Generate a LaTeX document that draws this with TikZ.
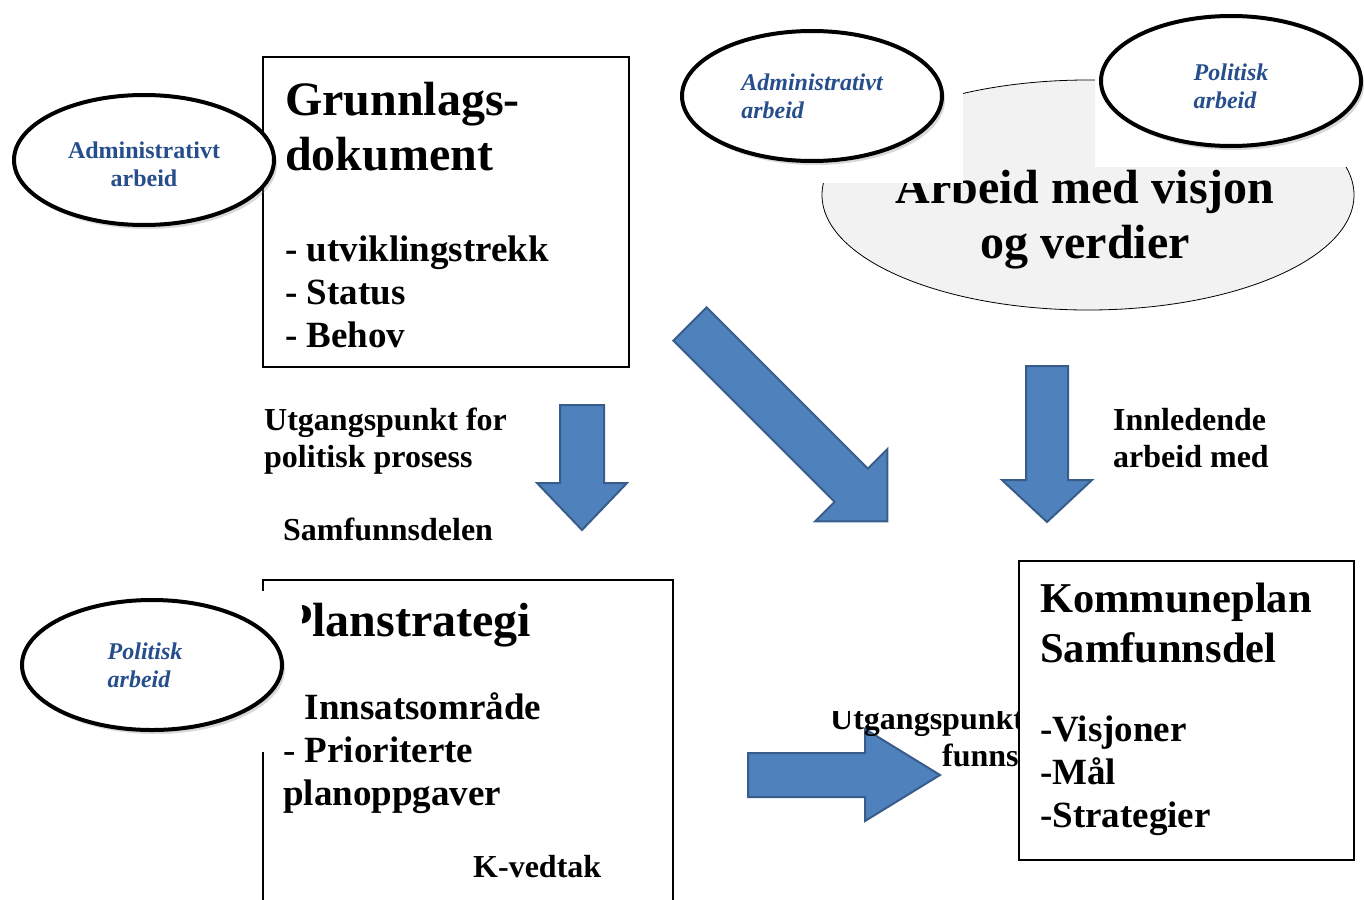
\documentclass[tikz,border=0pt]{standalone}
\usepackage{fontspec}
\setmainfont{Liberation Serif}
\usetikzlibrary{shapes.geometric,shadows}
\definecolor{tekstblaa}{RGB}{38,78,140}
\definecolor{pilblaa}{RGB}{79,129,189}
\definecolor{pilkant}{RGB}{56,93,138}
\definecolor{lysgraa}{RGB}{242,242,242}
\tikzset{
  boble/.style={ellipse, draw, line width=4pt, fill=white, minimum width=260pt, minimum height=130pt,
    drop shadow={opacity=0.3, shadow xshift=3pt, shadow yshift=-4pt}},
  bobletekst/.style={font=\bfseries\itshape\fontsize{24}{28}\selectfont, text=tekstblaa, align=left},
  tittel/.style={font=\bfseries\fontsize{48}{55}\selectfont, align=left, inner sep=0pt},
  liste/.style={font=\bfseries\fontsize{37}{43}\selectfont, align=left, inner sep=0pt},
  merknad/.style={font=\bfseries\fontsize{32}{37}\selectfont, align=left, inner sep=0pt},
  pil/.style={fill=pilblaa, draw=pilkant, line width=2pt, line join=miter},
  dekke/.style={fill=white, draw=none}
}
% blokkpil: start, vinkel, lengde, halv skaftbredde, halv hodebredde, hodelengde
\newcommand{\blokkpil}[6]{%
  \filldraw[pil, shift={(#1)}, rotate=#2] (0,-#4) -- ({#3-#6},-#4) -- ({#3-#6},-#5) -- (#3,0)
    -- ({#3-#6},#5) -- ({#3-#6},#4) -- (0,#4) -- cycle;}
\begin{document}
\begin{tikzpicture}[x=1pt,y=-1pt]
\useasboundingbox (0,0) rectangle (1364,899);

% grunnlagsdokument
\draw[line width=2.5pt] (263,57) rectangle (629,367);
\node[tittel, anchor=north west] (grunnlagtittel) at (285,82) {Grunnlags-\\dokument};
\node[liste, anchor=north west] (grunnlagliste) at (285,236) {- utviklingstrekk\\- Status\\- Behov};
\node[boble] (admin1) at (144,160) {};
\node[font=\bfseries\fontsize{24}{28}\selectfont, text=tekstblaa, align=center, yshift=-4pt] at (admin1) {Administrativt\\arbeid};

% visjon og verdier
\node[ellipse, draw, line width=0.8pt, fill=lysgraa, minimum width=532pt, minimum height=230pt] (visjon) at (1088,195) {};
\node[tittel, align=center, anchor=north] (visjontekst) at (1085,170) {Arbeid med visjon\\og verdier};
\fill[dekke] (640,0) rectangle (963,183);
\fill[dekke] (1095,0) rectangle (1364,167);
\node[boble] (admin2) at (812,96) {};
\node[bobletekst] at (admin2) {Administrativt\\arbeid};
\node[boble] (politisk1) at (1231,81) {};
\node[bobletekst, yshift=-5pt] at (politisk1) {Politisk\\arbeid};

% piler
\coordinate (pil1) at (582,405);
\coordinate (pil2) at (690,324);
\coordinate (pil3) at (1047,366);
\coordinate (pil4) at (748,775);
\blokkpil{pil1}{-90}{125}{22}{45}{47}
\blokkpil{pil2}{-45}{279}{23.5}{51}{51}
\blokkpil{pil3}{-90}{156}{21}{45}{42}
\blokkpil{pil4}{0}{192}{22}{46}{75}

\node[merknad, anchor=north west] (utgang1) at (264,408) {Utgangspunkt for\\politisk prosess};
\node[merknad, anchor=base west] (samfunn) at (283,540) {Samfunnsdelen};
\node[merknad, anchor=north west] (innledende) at (1113,408) {Innledende\\arbeid med};

% planstrategi
\draw[line width=1.2pt] (263,905) -- (263,580) -- (673,580) -- (673,905);
\node[tittel, anchor=north west] (plantittel) at (283,603) {Planstrategi};
\node[liste, anchor=north west] (planliste) at (283,692) {- Innsatsområde\\- Prioriterte\\planoppgaver};
\node[merknad, anchor=base west] (vedtak) at (473,877) {K-vedtak};
\fill[dekke] (200,591) rectangle (302,752);
\node[boble] (politisk2) at (152,665) {};
\node[bobletekst, xshift=-7pt] at (politisk2) {Politisk\\arbeid};

% kommuneplan
\node[merknad, anchor=base west] (utgang2) at (830,729) {Utgangspunkt};
\node[merknad, anchor=base west] (funns) at (942,766) {funns};
\fill[dekke] (800,680) rectangle (1018,711);
\draw[line width=1.5pt, fill=white] (1019,561) rectangle (1354,860);
\node[tittel, font=\bfseries\fontsize{42.5}{50}\selectfont, anchor=north west] (kommunetittel) at (1040,583) {Kommuneplan\\Samfunnsdel};
\node[liste, anchor=north west] (kommuneliste) at (1040,716) {-Visjoner\\-Mål\\-Strategier};
\end{tikzpicture}
\end{document}
